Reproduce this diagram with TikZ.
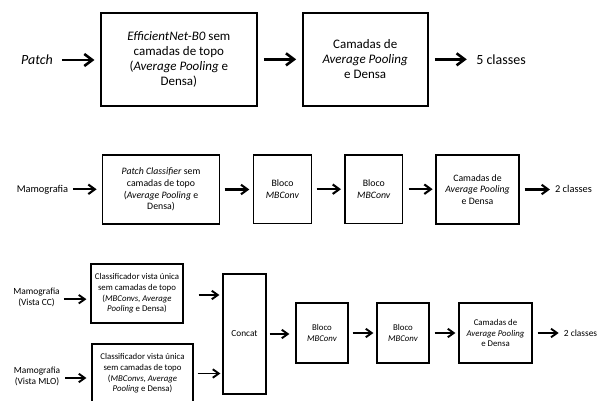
\documentclass[tikz,border=0pt]{standalone}
\usepackage{fontspec}
\setmainfont{Carlito}
\usetikzlibrary{arrows.meta}
\begin{document}
\begin{tikzpicture}[x=1pt,y=-1pt,
  boxT/.style={draw,line width=1.7pt,align=center,inner sep=0pt,font=\fontsize{13}{15}\selectfont},
  boxM/.style={draw,line width=1.4pt,align=center,inner sep=0pt,font=\fontsize{9.8}{11.8}\selectfont},
  boxB/.style={draw,line width=1.2pt,align=center,inner sep=0pt,font=\fontsize{8.8}{10.6}\selectfont},
  lblT/.style={inner sep=0pt,align=center,font=\fontsize{14}{16}\selectfont},
  lblM/.style={inner sep=0pt,align=center,font=\fontsize{10.4}{12.4}\selectfont},
  lblB/.style={inner sep=0pt,align=center,font=\fontsize{9.4}{11}\selectfont},
  arrT/.style={line width=2.6pt,-{Straight Barb[length=8pt,width=12pt]}},
  arrM/.style={line width=2.1pt,-{Straight Barb[length=6.5pt,width=9.5pt]}},
  arrB/.style={line width=1.9pt,-{Straight Barb[length=6pt,width=8.5pt]}}
]
\useasboundingbox (0,0) rectangle (603,401);
\clip (0,0) rectangle (603,401);

% ---- top row
\node[lblT] (patch) at (37,60) {\textit{Patch}};
\node[boxT,minimum width=155.7pt,minimum height=93.3pt] (t1) at (178.85,59.35)
  {\textit{EfficientNet-B0} sem\\camadas de topo\\(\textit{Average Pooling} e\\Densa)};
\node[boxT,minimum width=125pt,minimum height=93.3pt] (t2) at (365.2,59.35)
  {Camadas de\\\textit{Average Pooling}\\e Densa};
\node[lblT] (t5) at (501,60) {5 classes};
\draw[arrT,shorten <=8.7pt,shorten >=5.7pt] (patch.east) -- (patch.east -| t1.west);
\draw[arrT,shorten <=6.3pt,shorten >=5.7pt] (t1.east) -- (t1.east -| t2.west);
\draw[arrT,shorten <=6.3pt,shorten >=9.3pt] (t2.east) -- (t2.east -| t5.west);

% ---- middle row
\node[lblM] (mamo) at (42.5,189.3) {Mamografia};
\node[boxM,minimum width=116.6pt,minimum height=69pt] (m1) at (161,189.5)
  {\textit{Patch Classifier} sem\\camadas de topo\\(\textit{Average Pooling} e\\Densa)};
\node[boxM,minimum width=58.4pt,minimum height=68.3pt] (m2) at (282.5,189.2)
  {Bloco\\\textit{MBConv}};
\node[boxM,minimum width=57.7pt,minimum height=68.3pt] (m3) at (373.85,189.2)
  {Bloco\\\textit{MBConv}};
\node[boxM,minimum width=83pt,minimum height=69pt] (m4) at (477.5,189.5)
  {Camadas de\\\textit{Average Pooling}\\e Densa};
\node[lblM] (m5) at (573.5,189.3) {2 classes};
\draw[arrM,shorten <=4.4pt,shorten >=5.4pt] (mamo.east) -- (mamo.east -| m1.west);
\draw[arrM,shorten <=4.7pt,shorten >=3.3pt] (m1.east) -- (m1.east -| m2.west);
\draw[arrM,shorten <=4.3pt,shorten >=3.3pt] (m2.east) -- (m2.east -| m3.west);
\draw[arrM,shorten <=5.3pt,shorten >=2.7pt] (m3.east) -- (m3.east -| m4.west);
\draw[arrM,shorten <=5pt,shorten >=5pt] (m4.east) -- (m4.east -| m5.west);

% ---- bottom row
\node[lblB] (cc) at (36.5,297.2) {Mamografia\\(Vista CC)};
\node[lblB] (mlo) at (37,376.5) {Mamografia\\(Vista MLO)};
\node[boxB,minimum width=92pt,minimum height=59pt] (bt) at (137,293.5)
  {Classificador vista única\\sem camadas de topo\\(\textit{MBConvs}, \textit{Average}\\\textit{Pooling} e Densa)};
\node[boxB,minimum width=101pt,minimum height=59pt] (bb) at (142.5,373.5)
  {Classificador vista única\\sem camadas de topo\\(\textit{MBConvs}, \textit{Average}\\\textit{Pooling} e Densa)};
\node[boxB,minimum width=43pt,minimum height=120pt,font=\fontsize{9.3}{11}\selectfont] (cat) at (244.5,334) {Concat};
\node[boxB,minimum width=52pt,minimum height=60pt] (b1) at (322,333) {Bloco\\\textit{MBConv}};
\node[boxB,minimum width=52pt,minimum height=60pt] (b2) at (403,333) {Bloco\\\textit{MBConv}};
\node[boxB,minimum width=73pt,minimum height=60pt] (b3) at (495.5,333)
  {Camadas de\\\textit{Average Pooling}\\e Densa};
\node[lblB] (b4) at (580.5,333) {2 classes};
\draw[arrB,shorten <=4pt,shorten >=4pt] ([yshift=-2pt]cc.east) -- ([yshift=-2pt]cc.east -| bt.west);
\draw[arrB,shorten <=5pt,shorten >=5pt] ([yshift=-1.5pt]mlo.east) -- ([yshift=-1.5pt]mlo.east -| bb.west);
\draw[arrB,shorten <=15pt,shorten >=3pt] ([yshift=-1.5pt]bt.east) -- ([yshift=-1.5pt]bt.east -| cat.west);
\draw[arrB,shorten <=4pt,shorten >=2pt] (bb.east) -- (bb.east -| cat.west);
\draw[arrB,shorten <=3pt,shorten >=6pt] (cat.east) -- (cat.east -| b1.west);
\draw[arrB,shorten <=4pt,shorten >=3pt] (b1.east) -- (b1.east -| b2.west);
\draw[arrB,shorten <=5pt,shorten >=3pt] (b2.east) -- (b2.east -| b3.west);
\draw[arrB,shorten <=5pt,shorten >=5pt] (b3.east) -- (b3.east -| b4.west);
\end{tikzpicture}
\end{document}
